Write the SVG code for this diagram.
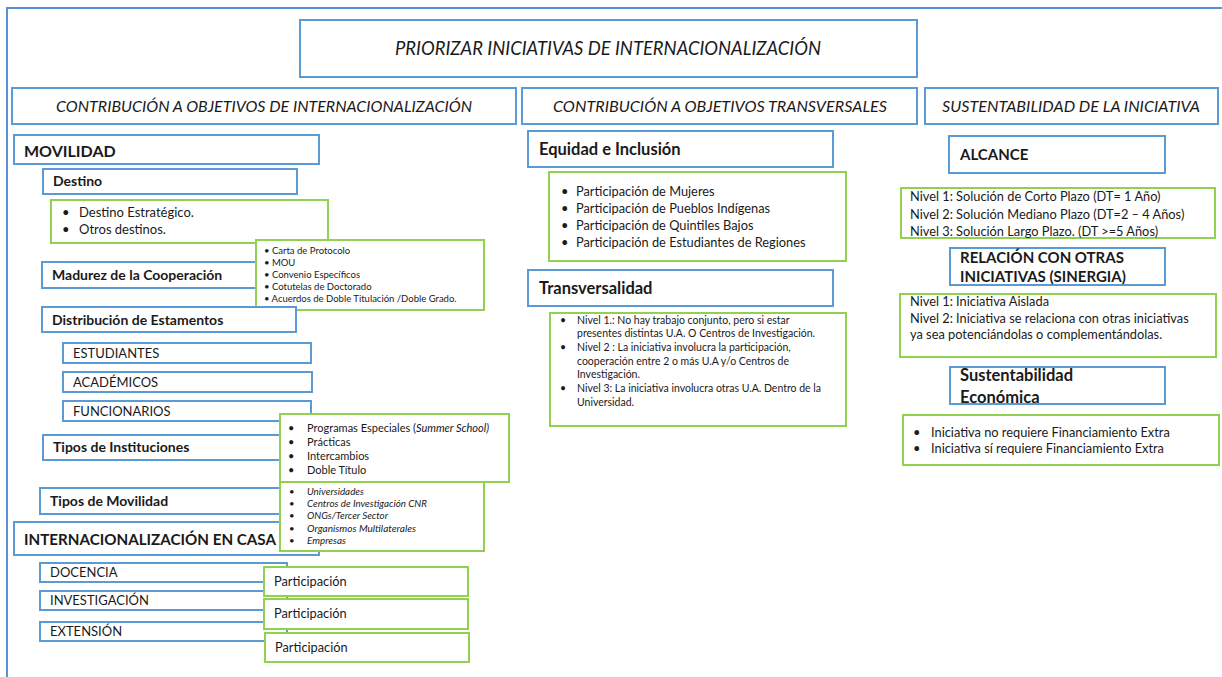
<svg xmlns="http://www.w3.org/2000/svg" width="1222" height="677" viewBox="0 0 1222 677">
  <style>
    .bg { fill: #ffffff; }
    .frame { fill: none; stroke: #5b8fd6; stroke-width: 2; }
    .blue { fill: #ffffff; stroke: #5b9bd5; stroke-width: 2; }
    .green { fill: #ffffff; stroke: #92d050; stroke-width: 2; }
    text { font-family: Lato, "Liberation Sans", sans-serif; fill: #1a1a1a; }
    .title { font-size: 19px; font-style: italic; text-anchor: middle; }
    .head { font-size: 16px; font-style: italic; text-anchor: middle; }
    .h1 { font-size: 16px; font-weight: bold; }
    .h2 { font-size: 14px; font-weight: bold; }
    .h3 { font-size: 15px; font-weight: bold; }
    .h4 { font-size: 16.5px; font-weight: bold; }
    .t13 { font-size: 13px; }
    .t12 { font-size: 12.8px; }
    .t11 { font-size: 11px; }
    .t10 { font-size: 10.5px; }
    .t9 { font-size: 9.5px; }
    .ti { font-size: 10px; font-style: italic; }
    .it { font-style: italic; }
  </style>

  <rect class="bg" x="0" y="0" width="1222" height="677"/>
  <!-- page frame: top and left edges -->
  <path class="frame" d="M7,677 V8 H1222"/>

  <!-- heading row -->
  <g id="title">
    <rect class="blue" x="300" y="20" width="617" height="57"/>
    <text class="title" x="608" y="55" textLength="426" lengthAdjust="spacingAndGlyphs">PRIORIZAR INICIATIVAS DE INTERNACIONALIZACIÓN</text>
  </g>
  <g id="col-internacionalizacion">
    <rect class="blue" x="12" y="88" width="504" height="36"/>
    <text class="head" x="264" y="112" textLength="416" lengthAdjust="spacingAndGlyphs">CONTRIBUCIÓN A OBJETIVOS DE INTERNACIONALIZACIÓN</text>
  </g>
  <g id="col-transversales">
    <rect class="blue" x="522" y="88" width="395" height="36"/>
    <text class="head" x="720" y="112" textLength="334" lengthAdjust="spacingAndGlyphs">CONTRIBUCIÓN A OBJETIVOS TRANSVERSALES</text>
  </g>
  <g id="col-sustentabilidad">
    <rect class="blue" x="925" y="88" width="293" height="36"/>
    <text class="head" x="1071" y="112" textLength="258" lengthAdjust="spacingAndGlyphs">SUSTENTABILIDAD DE LA INICIATIVA</text>
  </g>

  <!-- column 1: movilidad -->
  <g id="movilidad">
    <rect class="blue" x="14" y="135" width="305" height="29"/>
    <text class="h1" x="24" y="157">MOVILIDAD</text>
  </g>
  <g id="destino">
    <rect class="blue" x="43" y="169" width="254" height="25"/>
    <text class="h2" x="53" y="186">Destino</text>
  </g>
  <g id="destino-items">
    <rect class="green" x="51" y="200" width="277" height="43"/>
    <text class="t13" x="62" y="217">•</text>
    <text class="t13" x="79" y="217">Destino Estratégico.</text>
    <text class="t13" x="62" y="234">•</text>
    <text class="t13" x="79" y="234">Otros destinos.</text>
  </g>
  <g id="madurez">
    <rect class="blue" x="42" y="262" width="254" height="26"/>
    <text class="h2" x="52" y="280">Madurez de la Cooperación</text>
  </g>
  <g id="madurez-items">
    <rect class="green" x="256" y="240" width="228" height="70"/>
    <text class="t9" x="264" y="254">• Carta de Protocolo</text>
    <text class="t9" x="264" y="266">• MOU</text>
    <text class="t9" x="264" y="278">• Convenio Específicos</text>
    <text class="t9" x="264" y="290">• Cotutelas de Doctorado</text>
    <text class="t9" x="264" y="302">• Acuerdos de Doble Titulación /Doble Grado.</text>
  </g>
  <g id="estamentos">
    <rect class="blue" x="42" y="307" width="254" height="25"/>
    <text class="h2" x="52" y="325">Distribución de Estamentos</text>
  </g>
  <g id="estudiantes">
    <rect class="blue" x="63" y="343" width="248" height="20"/>
    <text class="t13" x="73" y="358">ESTUDIANTES</text>
  </g>
  <g id="academicos">
    <rect class="blue" x="63" y="372" width="249" height="20"/>
    <text class="t13" x="73" y="387">ACADÉMICOS</text>
  </g>
  <g id="funcionarios">
    <rect class="blue" x="63" y="401" width="248" height="20"/>
    <text class="t13" x="73" y="416">FUNCIONARIOS</text>
  </g>
  <g id="tipos-instituciones">
    <rect class="blue" x="43" y="435" width="253" height="25"/>
    <text class="h2" x="53" y="452">Tipos de Instituciones</text>
  </g>
  <g id="tipos-movilidad">
    <rect class="blue" x="40" y="488" width="256" height="26"/>
    <text class="h2" x="50" y="506">Tipos de Movilidad</text>
  </g>
  <g id="casa">
    <rect class="blue" x="14" y="522" width="305" height="33"/>
    <text class="h1" x="24" y="545" textLength="252" lengthAdjust="spacingAndGlyphs">INTERNACIONALIZACIÓN EN CASA</text>
  </g>
  <g id="programas-items">
    <rect class="green" x="280" y="414" width="229" height="68"/>
    <text class="t11" x="288" y="432">•</text>
    <text class="t11" x="307" y="432">Programas Especiales (<tspan class="it">Summer School)</tspan></text>
    <text class="t11" x="288" y="446">•</text>
    <text class="t11" x="307" y="446">Prácticas</text>
    <text class="t11" x="288" y="460">•</text>
    <text class="t11" x="307" y="460">Intercambios</text>
    <text class="t11" x="288" y="474">•</text>
    <text class="t11" x="307" y="474">Doble Título</text>
  </g>
  <g id="instituciones-items">
    <rect class="green" x="280" y="482" width="204" height="69"/>
    <text class="t9" x="289" y="495">•</text>
    <text class="ti" x="307" y="495" textLength="57" lengthAdjust="spacingAndGlyphs">Universidades</text>
    <text class="t9" x="289" y="507">•</text>
    <text class="ti" x="307" y="507" textLength="120" lengthAdjust="spacingAndGlyphs">Centros de Investigación CNR</text>
    <text class="t9" x="289" y="519">•</text>
    <text class="ti" x="307" y="519" textLength="81" lengthAdjust="spacingAndGlyphs">ONGs/Tercer Sector</text>
    <text class="t9" x="289" y="532">•</text>
    <text class="ti" x="307" y="532" textLength="109" lengthAdjust="spacingAndGlyphs">Organismos Multilaterales</text>
    <text class="t9" x="289" y="544">•</text>
    <text class="ti" x="307" y="544" textLength="39" lengthAdjust="spacingAndGlyphs">Empresas</text>
  </g>
  <g id="docencia">
    <rect class="blue" x="40" y="563" width="247" height="19"/>
    <text class="t13" x="50" y="577">DOCENCIA</text>
  </g>
  <g id="investigacion">
    <rect class="blue" x="40" y="591" width="247" height="19"/>
    <text class="t13" x="50" y="605">INVESTIGACIÓN</text>
  </g>
  <g id="extension">
    <rect class="blue" x="40" y="622" width="247" height="19"/>
    <text class="t13" x="50" y="636">EXTENSIÓN</text>
  </g>
  <g id="participacion-docencia">
    <rect class="green" x="264" y="567" width="204" height="29"/>
    <text class="t12" x="274" y="586">Participación</text>
  </g>
  <g id="participacion-investigacion">
    <rect class="green" x="264" y="599" width="204" height="30"/>
    <text class="t12" x="274" y="618">Participación</text>
  </g>
  <g id="participacion-extension">
    <rect class="green" x="265" y="633" width="204" height="29"/>
    <text class="t12" x="275" y="652">Participación</text>
  </g>

  <!-- column 2: objetivos transversales -->
  <g id="equidad">
    <rect class="blue" x="528" y="131" width="305" height="36"/>
    <text class="h4" x="539" y="155">Equidad e Inclusión</text>
  </g>
  <g id="equidad-items">
    <rect class="green" x="549" y="172" width="297" height="89"/>
    <text class="t12" x="561" y="196">•</text>
    <text class="t12" x="576" y="196">Participación de Mujeres</text>
    <text class="t12" x="561" y="213">•</text>
    <text class="t12" x="576" y="213">Participación de Pueblos Indígenas</text>
    <text class="t12" x="561" y="230">•</text>
    <text class="t12" x="576" y="230">Participación de Quintiles Bajos</text>
    <text class="t12" x="561" y="247">•</text>
    <text class="t12" x="576" y="247">Participación de Estudiantes de Regiones</text>
  </g>
  <g id="transversalidad">
    <rect class="blue" x="528" y="270" width="305" height="36"/>
    <text class="h4" x="539" y="294">Transversalidad</text>
  </g>
  <g id="transversalidad-items">
    <rect class="green" x="550" y="313" width="296" height="113"/>
    <text class="t10" x="560" y="323.5">•</text>
    <text class="t10" x="577" y="323.5">Nivel 1.: No hay trabajo conjunto, pero si estar</text>
    <text class="t10" x="577" y="336.5">presentes distintas U.A. O Centros de Investigación.</text>
    <text class="t10" x="560" y="350.5">•</text>
    <text class="t10" x="577" y="350.5">Nivel 2 : La iniciativa involucra la participación,</text>
    <text class="t10" x="577" y="364.5">cooperación entre 2 o más U.A y/o Centros de</text>
    <text class="t10" x="577" y="377.5">Investigación.</text>
    <text class="t10" x="560" y="391.5">•</text>
    <text class="t10" x="577" y="391.5">Nivel 3: La iniciativa involucra otras U.A. Dentro de la</text>
    <text class="t10" x="577" y="405.5">Universidad.</text>
  </g>

  <!-- column 3: sustentabilidad -->
  <g id="alcance">
    <rect class="blue" x="949" y="136" width="216" height="37"/>
    <text class="h3" x="960" y="160">ALCANCE</text>
  </g>
  <g id="alcance-items">
    <rect class="green" x="901" y="188" width="314" height="50"/>
    <text class="t12" x="910" y="201">Nivel 1: Solución de Corto Plazo (DT= 1 Año)</text>
    <text class="t12" x="910" y="219">Nivel 2: Solución Mediano Plazo (DT=2 – 4 Años)</text>
    <text class="t12" x="910" y="236">Nivel 3: Solución Largo Plazo. (DT &gt;=5 Años)</text>
  </g>
  <g id="sinergia">
    <rect class="blue" x="950" y="248" width="215" height="37"/>
    <text class="h3" x="960" y="263">RELACIÓN CON OTRAS</text>
    <text class="h3" x="960" y="282">INICIATIVAS (SINERGIA)</text>
  </g>
  <g id="sinergia-items">
    <rect class="green" x="900" y="294" width="316" height="63"/>
    <text class="t12" x="910" y="306">Nivel 1: Iniciativa Aislada</text>
    <text class="t12" x="910" y="323">Nivel 2: Iniciativa se relaciona con otras iniciativas</text>
    <text class="t12" x="910" y="339">ya sea potenciándolas o complementándolas.</text>
  </g>
  <g id="sustentabilidad-economica">
    <rect class="blue" x="950" y="367" width="215" height="37"/>
    <text class="h4" x="960" y="381">Sustentabilidad</text>
    <text class="h4" x="960" y="403">Económica</text>
  </g>
  <g id="financiamiento-items">
    <rect class="green" x="903" y="415" width="316" height="50"/>
    <text class="t12" x="913" y="437">•</text>
    <text class="t12" x="931" y="437">Iniciativa no requiere Financiamiento Extra</text>
    <text class="t12" x="913" y="453">•</text>
    <text class="t12" x="931" y="453">Iniciativa sí requiere Financiamiento Extra</text>
  </g>
</svg>
